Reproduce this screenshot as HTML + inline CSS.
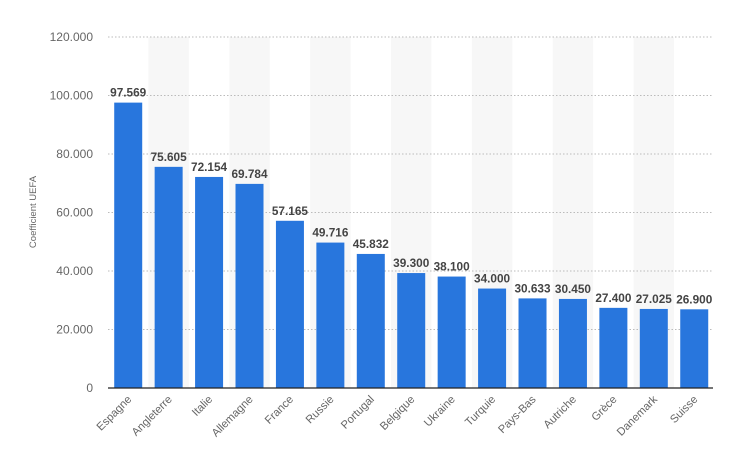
<!DOCTYPE html>
<html><head><meta charset="utf-8"><style>
body{margin:0;background:#fff;}
svg text{font-family:"Liberation Sans",sans-serif;}
</style></head><body>
<svg width="735" height="465" xmlns="http://www.w3.org/2000/svg">
<g id="bands"></g><g id="grid"></g><g id="bars"></g>
<line x1="108" y1="388" x2="713" y2="388" stroke="#222" stroke-width="1.2"/>
<text transform="translate(36,212) rotate(-90)" text-anchor="middle" font-size="9.5" fill="#666">Coefficient UEFA</text>
</svg>
<script>
const d=[["Espagne",97.569,"97.569"],["Angleterre",75.605,"75.605"],["Italie",72.154,"72.154"],["Allemagne",69.784,"69.784"],["France",57.165,"57.165"],["Russie",49.716,"49.716"],["Portugal",45.832,"45.832"],["Belgique",39.3,"39.300"],["Ukraine",38.1,"38.100"],["Turquie",34,"34.000"],["Pays-Bas",30.633,"30.633"],["Autriche",30.45,"30.450"],["Grèce",27.4,"27.400"],["Danemark",27.025,"27.025"],["Suisse",26.9,"26.900"]];
const ns="http://www.w3.org/2000/svg";
function el(g,t,a,txt){const e=document.createElementNS(ns,t);for(const k in a)e.setAttribute(k,a[k]);if(txt!=null)e.textContent=txt;document.getElementById(g).appendChild(e);return e;}
const sp=40.43,x0=108,y0=388,k=351/120;
d.forEach((r,i)=>{const cx=x0+sp*(i+0.5);
 if(i%2==1)el("bands","rect",{x:x0+sp*i,y:37,width:sp,height:351,fill:"#f7f7f7"});
 const h=r[1]*k;
 el("bars","rect",{x:cx-14,y:y0-h,width:28,height:h,fill:"#2876dd"});
 el("bars","text",{x:cx,y:y0-h-6,"text-anchor":"middle","font-size":"11.8","font-weight":"bold",fill:"#444"},r[2]);
 el("bars","text",{transform:`translate(${cx+4},${y0+12}) rotate(-45)`,"text-anchor":"end","font-size":"11.2",fill:"#666"},r[0]);
});
for(let v=0;v<=120;v+=20){const y=y0-v*k;
 if(v>0)el("grid","line",{x1:108,y1:y,x2:713,y2:y,stroke:"#bbb","stroke-dasharray":"1.5,2"});
 el("grid","text",{x:93,y:y+4,"text-anchor":"end","font-size":"12",fill:"#666"},v==0?"0":v+".000");}
</script>
</body></html>
